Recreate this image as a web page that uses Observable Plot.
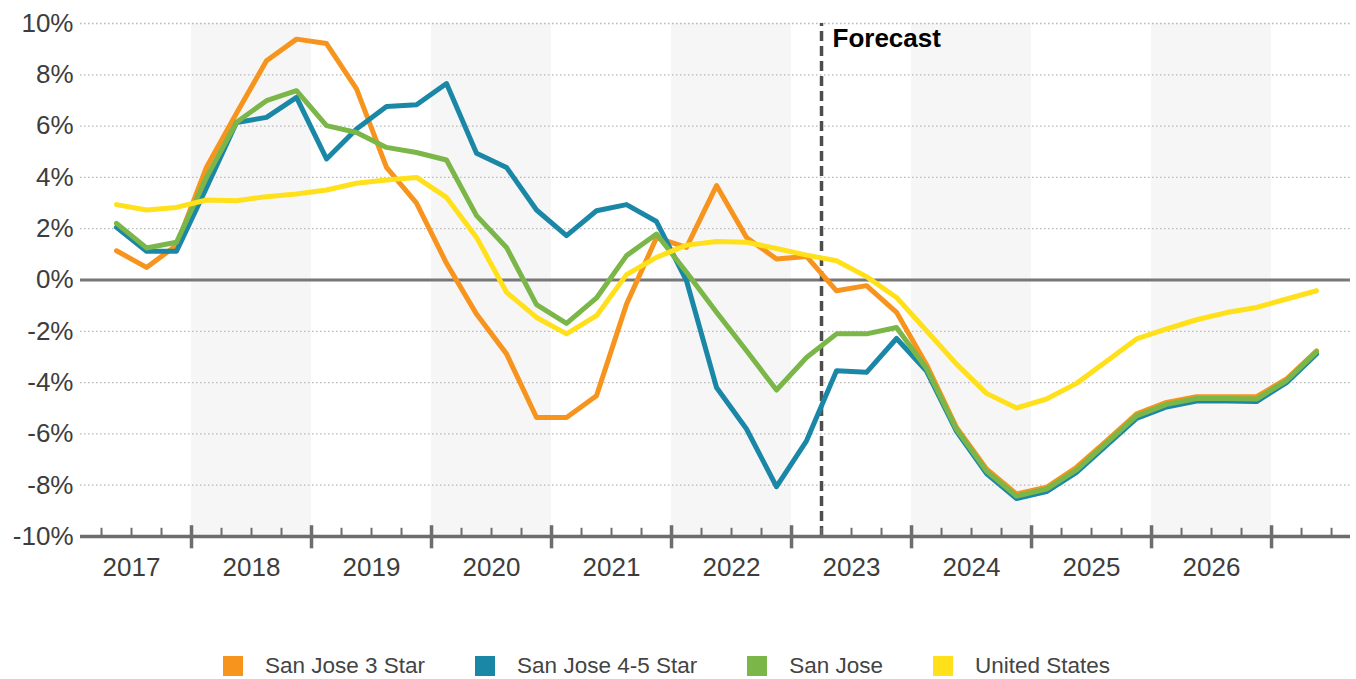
<!DOCTYPE html>
<html>
<head>
<meta charset="utf-8">
<script src="https://cdn.jsdelivr.net/npm/d3@7"></script>
<script src="https://cdn.jsdelivr.net/npm/@observablehq/plot@0.6"></script>
<style>
  html, body { margin: 0; padding: 0; background: #fff; overflow: hidden; }
  body { width: 1356px; height: 679px; position: relative; font-family: "Liberation Sans", Arial, sans-serif; }
  #chart { position: absolute; left: 0; top: 0; }
  #legend { position: absolute; left: 223px; top: 655px; display: flex; align-items: center; }
  .item { display: flex; align-items: center; margin-right: 50px; }
  .sw { width: 20px; height: 20px; margin-right: 22px; }
  .lb { font-size: 22.5px; color: #444; line-height: 22px; white-space: nowrap; }
</style>
</head>
<body>
<div id="chart"></div>
<div id="legend"></div>
<script>
// ---- Data ----
const quarters = [
  "2017 Q2","2017 Q3","2017 Q4",
  "2018 Q1","2018 Q2","2018 Q3","2018 Q4",
  "2019 Q1","2019 Q2","2019 Q3","2019 Q4",
  "2020 Q1","2020 Q2","2020 Q3","2020 Q4",
  "2021 Q1","2021 Q2","2021 Q3","2021 Q4",
  "2022 Q1","2022 Q2","2022 Q3","2022 Q4",
  "2023 Q1","2023 Q2","2023 Q3","2023 Q4",
  "2024 Q1","2024 Q2","2024 Q3","2024 Q4",
  "2025 Q1","2025 Q2","2025 Q3","2025 Q4",
  "2026 Q1","2026 Q2","2026 Q3","2026 Q4",
  "2027 Q1","2027 Q2"
];
const seriesNames = ["San Jose 3 Star", "San Jose 4-5 Star", "San Jose", "United States"];
const seriesColors = ["#F7941D", "#1B87A7", "#7AB648", "#FFE01A"];
const sanJose3Star = [1.14, 0.49, 1.35, 4.4, 6.5, 8.55, 9.39, 9.22, 7.45, 4.39, 3.0, 0.65, -1.33, -2.88, -5.36, -5.36, -4.51, -0.94, 1.65, 1.27, 3.68, 1.66, 0.82, 0.92, -0.42, -0.22, -1.26, -3.3, -5.75, -7.37, -8.34, -8.08, -7.3, -6.27, -5.22, -4.77, -4.55, -4.55, -4.55, -3.86, -2.76];
const sanJose45Star = [2.05, 1.12, 1.12, 3.6, 6.14, 6.34, 7.12, 4.72, 5.89, 6.76, 6.83, 7.66, 4.94, 4.39, 2.73, 1.73, 2.7, 2.94, 2.28, -0.03, -4.19, -5.81, -8.06, -6.27, -3.54, -3.6, -2.28, -3.55, -5.9, -7.55, -8.52, -8.25, -7.5, -6.45, -5.4, -4.95, -4.72, -4.72, -4.74, -4.0, -2.88];
const sanJose = [2.21, 1.25, 1.47, 4.0, 6.15, 6.99, 7.38, 6.02, 5.75, 5.17, 4.97, 4.68, 2.51, 1.27, -0.96, -1.69, -0.7, 0.95, 1.79, 0.3, -1.26, -2.76, -4.29, -3.02, -2.1, -2.1, -1.85, -3.45, -5.82, -7.45, -8.42, -8.15, -7.4, -6.35, -5.3, -4.85, -4.62, -4.62, -4.64, -3.92, -2.8];
const unitedStates = [2.94, 2.73, 2.83, 3.12, 3.09, 3.25, 3.35, 3.51, 3.77, 3.9, 4.0, 3.22, 1.66, -0.48, -1.46, -2.1, -1.39, 0.21, 0.88, 1.36, 1.5, 1.47, 1.23, 0.97, 0.75, 0.13, -0.68, -1.98, -3.28, -4.42, -4.99, -4.64, -4.03, -3.17, -2.3, -1.91, -1.55, -1.27, -1.07, -0.74, -0.42];
const yearLabels = [2017, 2018, 2019, 2020, 2021, 2022, 2023, 2024, 2025, 2026];
const shadedYears = [2018, 2020, 2022, 2024, 2026];
const yTicks = [-10, -8, -6, -4, -2, 0, 2, 4, 6, 8, 10];
const forecastStart = "2023 Q2";

// ---- Helpers ----
const qStart = (label) => { const [y, q] = label.split(" Q"); return +y + (+q - 1) / 4; };
const qMid = (label) => qStart(label) + 0.125;
const xStart = 2017.075, xEnd = 2027.658;

const allValues = [sanJose3Star, sanJose45Star, sanJose, unitedStates];
const rows = [];
seriesNames.forEach((name, s) => {
  quarters.forEach((q, i) => rows.push({ series: name, t: qMid(q), v: allValues[s][i] }));
});

// quarter boundaries for ticks
const boundaries = quarters.map(qStart).filter(t => t > xStart).concat([qStart("2027 Q2") + 0.25]).filter(t => t < xEnd);
const majorTicks = boundaries.filter(t => Math.abs(t - Math.round(t)) < 1e-9);
const minorTicks = boundaries.filter(t => Math.abs(t - Math.round(t)) >= 1e-9);

const font = "Liberation Sans, Arial, sans-serif";
const axisGray = "#6d6d6d";

const chart = Plot.plot({
  width: 1356,
  height: 600,
  marginLeft: 80,
  marginRight: 6,
  marginTop: 23,
  marginBottom: 64,
  style: { fontFamily: font, background: "transparent", overflow: "visible" },
  x: { domain: [xStart, xEnd], axis: null },
  y: { domain: [-10, 10], axis: null },
  color: { domain: seriesNames, range: seriesColors },
  marks: [
    Plot.rect(shadedYears, { x1: d => d, x2: d => d + 1, y1: -10, y2: 10, fill: "#f6f6f6" }),
    Plot.ruleY(yTicks.filter(d => d !== 0 && d !== -10), { stroke: "#b8b8b8", strokeWidth: 1.3, strokeDasharray: "1.5,2.5" }),
    Plot.ruleY([0], { stroke: "#777", strokeWidth: 3 }),
    Plot.ruleX([qStart(forecastStart)], { y1: -10, y2: 10, stroke: "#4d4d4d", strokeWidth: 3.5, strokeDasharray: "10,5" }),
    Plot.text(["Forecast"], { x: qStart(forecastStart), y: 10, dx: 11, dy: 15, text: d => d, textAnchor: "start", fontSize: 26, fontWeight: "bold", fill: "#000" }),
    Plot.line(rows, { x: "t", y: "v", z: "series", stroke: "series", strokeWidth: 5, strokeLinejoin: "round", strokeLinecap: "round" }),
    Plot.ruleY([-10], { stroke: axisGray, strokeWidth: 3.5 }),
    Plot.ruleX(minorTicks, { y1: -10, y2: -9.68, stroke: axisGray, strokeWidth: 2 }),
    Plot.ruleX(majorTicks, { y1: -10.48, y2: -9.58, stroke: axisGray, strokeWidth: 3.5 }),
    Plot.text(yearLabels, { x: d => d + 0.5, y: -10, dy: 31, text: d => String(d), fontSize: 26, fill: "#3d3d3d" }),
    Plot.text(yTicks, { x: xStart, y: d => d, dx: -7, text: d => d + "%", textAnchor: "end", fontSize: 26, fill: "#3d3d3d" })
  ]
});
document.getElementById("chart").appendChild(chart);

// ---- Legend ----
const legend = document.getElementById("legend");
seriesNames.forEach((name, i) => {
  const item = document.createElement("div");
  item.className = "item";
  const sw = document.createElement("div");
  sw.className = "sw";
  sw.style.background = seriesColors[i];
  const lb = document.createElement("div");
  lb.className = "lb";
  lb.textContent = name;
  item.appendChild(sw);
  item.appendChild(lb);
  legend.appendChild(item);
});
</script>
</body>
</html>
